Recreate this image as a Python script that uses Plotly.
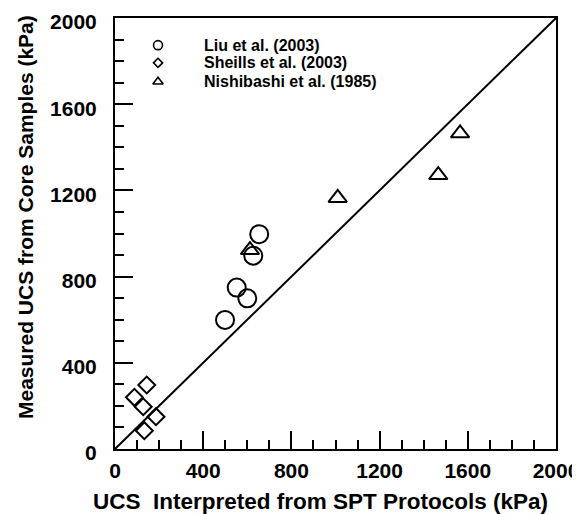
import plotly.graph_objects as go

# Data (kPa): x = UCS interpreted from SPT, y = measured UCS from core samples
liu_x = [499, 552, 600, 627, 654]
liu_y = [599, 749, 699, 897, 997]

sheills_x = [88, 144, 128, 186, 133]
sheills_y = [240, 297, 196, 150, 85]

nishibashi_x = [612, 1010, 1466, 1565]
nishibashi_y = [923, 1165, 1271, 1465]

line_x = [0, 2000]
line_y = [0, 2000]

legend_names = ["Liu et al. (2003)", "Sheills et al. (2003)", "Nishibashi et al. (1985)"]
legend_symbols = ["circle-open", "diamond-open", "triangle-up-open"]
legend_sizes = [9, 7, 9]

FONT = "Arial, Liberation Sans, sans-serif"

fig = go.Figure()

fig.add_trace(go.Scatter(x=line_x, y=line_y, mode="lines",
                         line=dict(color="black", width=2), showlegend=False,
                         hoverinfo="skip"))

fig.add_trace(go.Scatter(x=liu_x, y=liu_y, mode="markers", showlegend=False,
                         marker=dict(symbol="circle-open", size=18, color="black",
                                     line=dict(color="black", width=2))))
fig.add_trace(go.Scatter(x=sheills_x, y=sheills_y, mode="markers", showlegend=False,
                         marker=dict(symbol="diamond-open", size=13, color="black",
                                     line=dict(color="black", width=2))))
fig.add_trace(go.Scatter(x=nishibashi_x, y=nishibashi_y, mode="markers", showlegend=False,
                         marker=dict(symbol="triangle-up-open", size=16, color="black",
                                     line=dict(color="black", width=2))))

# legend key: symbols on an overlay axis (0..1 fraction of plot area), text as annotations
leg_x = 0.0975
leg_text_x = 0.197
leg_y = [0.937, 0.896, 0.852]
for sym, sz, yy in zip(legend_symbols, legend_sizes, leg_y):
    fig.add_trace(go.Scatter(x=[leg_x], y=[yy], xaxis="x2", yaxis="y2", mode="markers",
                             showlegend=False, hoverinfo="skip",
                             marker=dict(symbol=sym, size=sz, color="black",
                                         line=dict(color="black", width=1.6))))
for name, yy in zip(legend_names, leg_y):
    fig.add_annotation(x=leg_text_x, y=yy, xref="x2", yref="y2", text=name,
                       showarrow=False, xanchor="left", yanchor="middle",
                       font=dict(family=FONT, size=16, color="black", weight="bold"))

axis_common = dict(
    range=[0, 2000], dtick=400, tick0=0,
    showgrid=False, zeroline=False,
    showline=True, linecolor="black", linewidth=2, mirror=True,
    ticks="inside", ticklen=18, tickwidth=1.5, tickcolor="black",
    minor=dict(dtick=100, ticks="inside", ticklen=9, tickwidth=1.5, tickcolor="black"),
    tickfont=dict(family=FONT, size=21, color="black", weight="bold"),
    ticklabeloverflow="allow",
)

# axis titles as annotations (paper coords relative to the plot area)
fig.add_annotation(x=(320 - 115) / 441, y=-(501 - 449) / 431, xref="paper", yref="paper",
                   text="UCS  Interpreted from SPT Protocols (kPa)", showarrow=False,
                   xanchor="center", yanchor="middle",
                   font=dict(family=FONT, size=22.5, color="black", weight="bold"))
fig.add_annotation(x=-(115 - 25) / 441, y=(449 - 217) / 431, xref="paper", yref="paper",
                   text="Measured UCS from Core Samples (kPa)", showarrow=False, textangle=-90,
                   xanchor="center", yanchor="middle",
                   font=dict(family=FONT, size=21, color="black", weight="bold"))

# page body has an 8px default margin, so the figure is 8px smaller and offset
fig.update_layout(
    width=572, height=506,
    margin=dict(l=107, r=24, t=10, b=65, autoexpand=False),
    paper_bgcolor="white", plot_bgcolor="white",
    xaxis=dict(axis_common, ticklabelstandoff=2),
    yaxis=dict(axis_common, ticklabelstandoff=12, ticklabelshift=4),
    xaxis2=dict(range=[0, 1], overlaying="x", visible=False, fixedrange=True),
    yaxis2=dict(range=[0, 1], overlaying="y", visible=False, fixedrange=True),
    showlegend=False,
)

fig.write_html("out.html")
